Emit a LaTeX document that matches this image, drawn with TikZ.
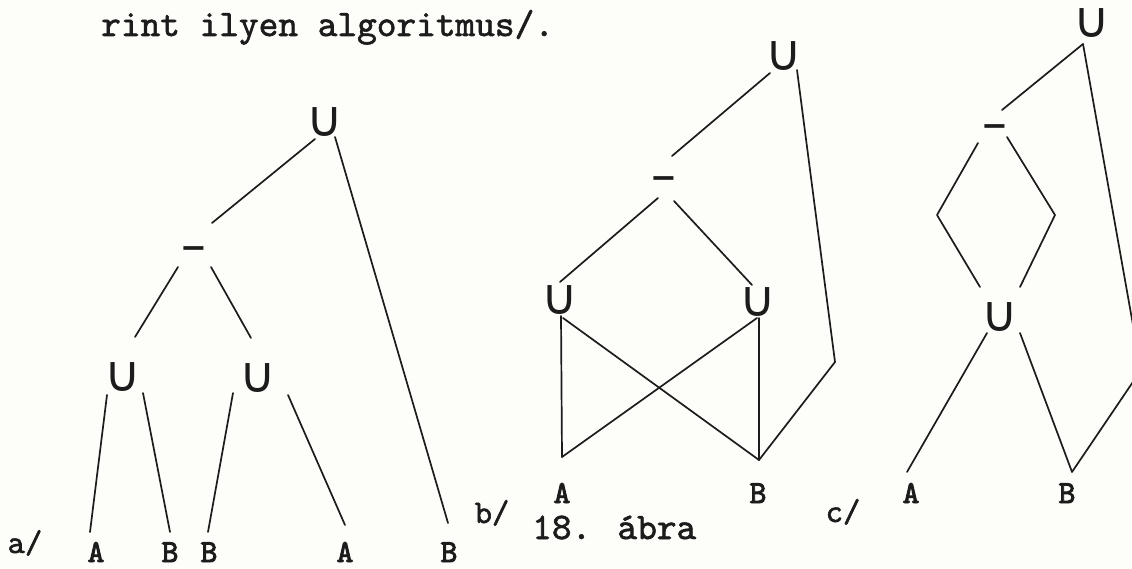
\documentclass[tikz,border=0pt]{standalone}
\usepackage{fontspec}
\newfontfamily\symf{DejaVu Sans}
\newfontfamily\tw{lmmono10-regular.otf}[FakeBold=1.6]
\newfontfamily\twb{lmmono10-regular.otf}[FakeBold=3]
\usetikzlibrary{calc}
\definecolor{paper}{RGB}{253,253,250}
\definecolor{ink}{RGB}{28,28,28}
\tikzset{
  op/.style={font=\symf\fontsize{50}{50}\selectfont, inner sep=0pt, text=ink},
  mn/.style={font=\symf\fontsize{32}{32}\selectfont\bfseries, inner sep=0pt, text=ink},
  lbl/.style={font=\twb\fontsize{32}{32}\selectfont, inner sep=0pt, anchor=base, text=ink},
  panellbl/.style={font=\tw\fontsize{33}{33}\selectfont, inner sep=0pt, anchor=base, text=ink},
  txt/.style={font=\tw\fontsize{37.5}{37.5}\selectfont, inner sep=0pt, anchor=base west, text=ink},
  ln/.style={draw=ink, line width=1.7pt, line cap=round, line join=round},
}
\begin{document}
\begin{tikzpicture}[x=1pt,y=-1pt]
\path[use as bounding box, fill=paper] (0,0) rectangle (1132,569);
\clip (0,0) rectangle (1132,569);

% texts
\node[txt] (head) at (101,36) {rint ilyen algoritmus/.};
\node[txt] (fig) at (532,539) {18. ábra};
\node[panellbl] (pa) at (25,553) {a/};
\node[panellbl] (pb) at (492,523) {b/};
\node[panellbl] (pc) at (843,522) {c/};

% ---------- panel a ----------
\node[op] (Ua1) at (325,122) {∪};
\node[mn] (Ma) at (194,253) {−};
\node[op] (Ua2) at (123,377) {∪};
\node[op] (Ua3) at (258,378) {∪};
\node[lbl] (A1) at (96,562) {A};
\node[lbl] (B2) at (170,562) {B};
\node[lbl] (B3) at (209,562) {B};
\node[lbl] (A4) at (345,562) {A};
\node[lbl] (B5) at (449,562) {B};

\draw[ln] ($(Ua1)+(-10,17)$) -- ($(Ma)+(18,-30)$);
\draw[ln] ($(Ua1)+(10,15)$) -- ($(B5.base)+(-1,-39)$);
\draw[ln] ($(Ma)+(-16,14)$) -- ($(Ua2)+(12,-40)$);
\draw[ln] ($(Ma)+(17,14)$) -- ($(Ua3)+(-7,-40)$);
\draw[ln] ($(Ua2)+(-16,18)$) -- ($(A1.base)+(-6,-30)$);
\draw[ln] ($(Ua2)+(20,16)$) -- ($(B2.base)+(0,-30)$);
\draw[ln] ($(Ua3)+(-25,15)$) -- ($(B3.base)+(-1,-30)$);
\draw[ln] ($(Ua3)+(30,17)$) -- ($(A4.base)+(0,-37)$);

% ---------- panel b ----------
\node[op] (Ub1) at (784,56) {∪};
\node[mn] (Mb) at (664,183) {−};
\node[op] (Ub2) at (560,300) {∪};
\node[op] (Ub3) at (758,302) {∪};
\node[lbl] (Ab) at (562,503) {A};
\node[lbl] (Bb) at (758,503) {B};
\coordinate (Av) at (562,457);
\coordinate (Bv) at (759,460);
\coordinate (bend) at (835,362);

\draw[ln] ($(Ub1)+(-14,17)$) -- ($(Mb)+(8,-27)$);
\draw[ln] ($(Ub1)+(13,14)$) -- (bend) -- (Bv);
\draw[ln] ($(Mb)+(-6,15)$) -- ($(Ub2)+(0,-18)$);
\draw[ln] ($(Mb)+(10,18)$) -- ($(Ub3)+(-6,-17)$);
\draw[ln] ($(Ub2)+(1,16)$) -- (Av);
\draw[ln] ($(Ub2)+(3,18)$) -- (Bv);
\draw[ln] ($(Ub3)+(1,16)$) -- (Bv);
\draw[ln] ($(Ub3)+(-1,16)$) -- (Av);

% ---------- panel c ----------
\node[op] (Uc1) at (1092,23) {∪};
\node[mn] (Mc) at (995,131) {−};
\node[op] (Uc2) at (1000,317) {∪};
\node[lbl] (Ac) at (911,503) {A};
\node[lbl] (Bc) at (1067,503) {B};
\coordinate (cL) at (937,215);
\coordinate (cR) at (1055,215);
\coordinate (Bvc) at (1072,472);
\coordinate (V) at (1141,370);

\draw[ln] ($(Uc1)+(-9,21)$) -- ($(Mc)+(7,-21)$);
\draw[ln] ($(Uc1)+(-9,21)$) -- (V);
\draw[ln] ($(Mc)+(-17,12)$) -- (cL) -- ($(Uc2)+(-20,-30)$);
\draw[ln] ($(Mc)+(12,6)$) -- (cR) -- ($(Uc2)+(20,-30)$);
\draw[ln] ($(Uc2)+(-13,16)$) -- ($(Ac.base)+(-4,-31)$);
\draw[ln] ($(Uc2)+(20,16)$) -- (Bvc) -- (V);
\end{tikzpicture}
\end{document}
